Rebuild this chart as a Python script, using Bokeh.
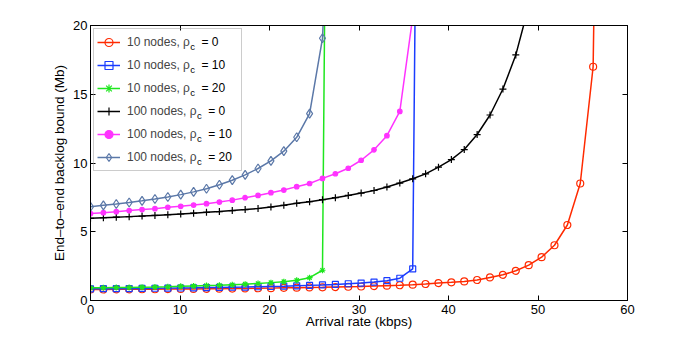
from bokeh.plotting import figure
from bokeh.models import (Range1d, LinearAxis, FixedTicker, Legend, LegendItem,
                          ColumnDataSource)
from bokeh.core.properties import value
from bokeh.embed import file_html
from bokeh.resources import INLINE

# ---------------- data ----------------
rate = [0, 1.44, 2.88, 4.32, 5.76, 7.2, 8.64, 10.08, 11.52, 12.96,
        14.4, 15.84, 17.28, 18.72, 20.16, 21.6, 23.04, 24.48, 25.92, 27.36,
        28.8, 30.24, 31.68, 33.12, 34.56, 36.0, 37.44, 38.88, 40.32, 41.76,
        43.2, 44.64, 46.08, 47.52, 48.96, 50.4, 51.84, 53.28, 54.72, 56.16, 57.6]

n10_rho0 = [0.80, 0.80, 0.81, 0.81, 0.82, 0.82, 0.83, 0.84, 0.84, 0.85,
            0.86, 0.87, 0.88, 0.89, 0.90, 0.92, 0.93, 0.95, 0.96, 0.98,
            1.00, 1.02, 1.05, 1.08, 1.11, 1.15, 1.20, 1.27, 1.32, 1.39,
            1.49, 1.68, 1.87, 2.16, 2.57, 3.15, 4.02, 5.49, 8.51, 17.0, 80.0]
n10_rho10 = [0.85, 0.86, 0.86, 0.87, 0.88, 0.89, 0.90, 0.91, 0.92, 0.94,
             0.95, 0.97, 0.98, 1.00, 1.02, 1.04, 1.07, 1.10, 1.13, 1.17,
             1.22, 1.27, 1.34, 1.44, 1.62, 2.30, 104.0]
n10_rho20 = [0.92, 0.93, 0.94, 0.95, 0.97, 0.98, 1.00, 1.03, 1.06, 1.09,
             1.11, 1.15, 1.19, 1.24, 1.30, 1.37, 1.47, 1.66, 2.20, 113.0]
n100_rho0 = [5.98, 6.02, 6.06, 6.10, 6.14, 6.19, 6.24, 6.29, 6.35, 6.41,
             6.47, 6.54, 6.61, 6.69, 6.80, 6.92, 7.07, 7.19, 7.33, 7.48,
             7.64, 7.81, 8.00, 8.25, 8.54, 8.85, 9.21, 9.70, 10.25, 10.98,
             12.07, 13.49, 15.38, 17.86, 21.4, 27.0]
n100_rho10 = [6.32, 6.39, 6.46, 6.54, 6.61, 6.68, 6.78, 6.85, 6.94, 7.04,
              7.16, 7.30, 7.48, 7.64, 7.84, 8.03, 8.28, 8.51, 8.88, 9.22,
              9.62, 10.20, 10.96, 11.99, 13.75, 20.6, 60.0]
n100_rho20 = [6.82, 6.92, 7.02, 7.13, 7.25, 7.38, 7.53, 7.70, 7.90, 8.13,
              8.42, 8.75, 9.14, 9.60, 10.15, 10.86, 11.87, 13.59, 19.07, 40.0]

labels_main = ["10 nodes, ρ", "10 nodes, ρ", "10 nodes, ρ",
               "100 nodes, ρ", "100 nodes, ρ", "100 nodes, ρ"]
labels_sub = ["c", "c", "c", "c", "c", "c"]
labels_tail = ["= 0", "= 10", "= 20", "= 0", "= 10", "= 20"]

x_ticks = [0, 10, 20, 30, 40, 50, 60]
y_ticks = [0, 5, 10, 15, 20]

# ---------------- styles ----------------
FONT = "Liberation Sans"
series = [
    (n10_rho0, "#ff2a00", "circle", 7, None),
    (n10_rho10, "#1a3cff", "square", 6, None),
    (n10_rho20, "#1ee61e", "asterisk", 6, None),
    (n100_rho0, "#000000", "cross", 7, None),
    (n100_rho10, "#ff33ff", "circle", 4.5, "#ff33ff"),
    (n100_rho20, "#5b78a8", "diamond", 9, None),
]

X0, X1, Y0, Y1 = 0, 60, 0, 20
p = figure(width=692, height=339, output_backend="svg", toolbar_location=None,
           x_range=Range1d(X0, X1), y_range=Range1d(Y0, Y1),
           min_border_left=90, min_border_right=65, min_border_top=25,
           min_border_bottom=39, x_axis_label="Arrival rate (kbps)",
           y_axis_label="End–to–end backlog bound (Mb)")
p.background_fill_color = "white"
p.border_fill_color = "white"
p.outline_line_color = "black"
p.xgrid.visible = False
p.ygrid.visible = False

def style_axis(ax, ticks):
    ax.ticker = FixedTicker(ticks=ticks)
    ax.major_tick_in = 5
    ax.major_tick_out = 0
    ax.minor_tick_in = 0
    ax.minor_tick_out = 0
    ax.axis_line_color = "black"
    ax.major_tick_line_color = "black"
    ax.major_label_text_font = FONT
    ax.major_label_text_font_size = "13px"
    ax.major_label_text_color = "black"
    ax.axis_label_text_font = FONT
    ax.axis_label_text_font_size = "13.5px"
    ax.axis_label_text_font_style = "normal"
    ax.axis_label_text_color = "black"

style_axis(p.xaxis[0], x_ticks)
style_axis(p.yaxis[0], y_ticks)
p.xaxis[0].major_label_standoff = 4
p.xaxis[0].axis_label_standoff = -3
p.yaxis[0].major_label_standoff = 3
p.yaxis[0].axis_label_standoff = 3

top_ax = LinearAxis()
right_ax = LinearAxis()
for ax, t in ((top_ax, x_ticks), (right_ax, y_ticks)):
    style_axis(ax, t)
    ax.major_label_text_font_size = "1px"
    ax.major_label_text_color = None
    ax.major_label_standoff = 0
p.add_layout(top_ax, "above")
p.add_layout(right_ax, "right")

items = []
for (ys, color, marker, size, fill), lab in zip(series, labels_main):
    xs = rate[:len(ys)]
    lr = p.line(xs, ys, line_color=color, line_width=1.5)
    sr = p.scatter(xs, ys, marker=marker, size=size, line_color=color,
                   line_width=1.2, fill_color=fill if fill else "white",
                   fill_alpha=1.0 if fill else 0.0)
    items.append(LegendItem(label=lab, renderers=[lr, sr]))

legend = Legend(items=items, location="top_left", margin=3, padding=3,
                spacing=3, glyph_height=20, glyph_width=23, label_standoff=7,
                label_width=111, label_height=20,
                label_text_font=FONT, label_text_font_size="12px",
                label_text_baseline="alphabetic",
                border_line_color="#9a9a9a", border_line_width=1,
                background_fill_alpha=0.0)
p.add_layout(legend, "center")

# subscript "c" and "= n" parts of the legend labels, offset in pixels
# from the frame's top-left corner
W = {'1': 0.556, '0': 0.556, ' ': 0.278, 'n': 0.556, 'o': 0.556, 'd': 0.556,
     'e': 0.556, 's': 0.5, ',': 0.278, 'ρ': 0.578}
text_x0 = 3 + 3 + 23 + 7
row0 = 3 + 3 + 10
sub_dx, sub_dy, tail_dx, tail_dy = [], [], [], []
for i, m in enumerate(labels_main):
    w = sum(W.get(ch, 0.556) for ch in m) * 12
    yrow = row0 + i * 23
    sub_dx.append(text_x0 + w + 0.8)
    sub_dy.append(yrow + 5)
    tail_dx.append(text_x0 + w + 12)
    tail_dy.append(yrow)

n = len(labels_main)
src_sub = ColumnDataSource(dict(x=[X0] * n, y=[Y1] * n, t=labels_sub,
                                dx=sub_dx, dy=sub_dy))
src_tail = ColumnDataSource(dict(x=[X0] * n, y=[Y1] * n, t=labels_tail,
                                 dx=tail_dx, dy=tail_dy))
p.text(x="x", y="y", text="t", x_offset="dx", y_offset="dy", source=src_sub,
       text_font=value(FONT), text_font_size="9.5px", text_baseline="alphabetic",
       text_color="black")
p.text(x="x", y="y", text="t", x_offset="dx", y_offset="dy", source=src_tail,
       text_font=value(FONT), text_font_size="12px", text_baseline="alphabetic",
       text_color="black")

open("out.html", "w").write(file_html(p, INLINE))
